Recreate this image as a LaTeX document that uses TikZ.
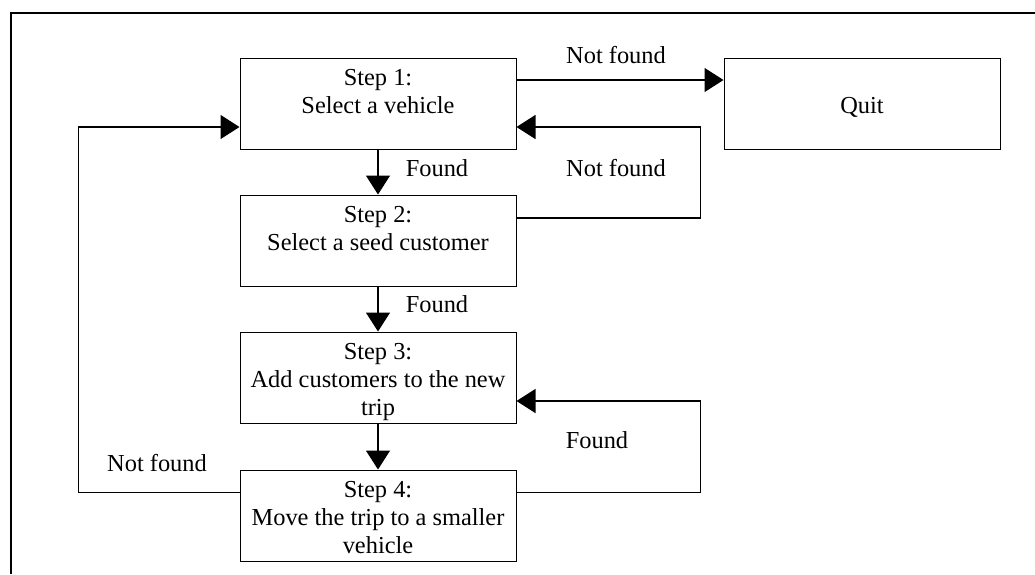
\documentclass[tikz,border=0pt]{standalone}
\usepackage{fontspec}
\setmainfont{Liberation Serif}
\usetikzlibrary{positioning, arrows.meta}

% text of a step box, set from the top of the box down
\newcommand{\boxtext}[1]{\parbox[c][91pt][t]{276pt}{\centering\rule{0pt}{27pt}#1}}

\begin{document}
\begin{tikzpicture}[x=1pt, y=-1pt,
    stepbox/.style={draw, line width=1pt, minimum width=276pt, minimum height=91pt,
        align=center, inner sep=0pt, font=\fontsize{24.4}{28}\selectfont},
    flow/.style={-{Triangle[length=19pt, width=24pt]}, line width=1.3pt},
    lbl/.style={font=\fontsize{24.4}{28}\selectfont}]
    \useasboundingbox (0,0) rectangle (1035,574);

    % Outer frame (open at right and bottom)
    \draw[line width=1.8pt] (11,574) -- (11,13) -- (1035,13);

    % Steps
    \node[stepbox] (s1) at (378,103.5) {\boxtext{Step 1:\\ Select a vehicle}};
    \node[stepbox, below=45pt of s1] (s2) {\boxtext{Step 2:\\ Select a seed customer}};
    \node[stepbox, below=45pt of s2] (s3) {\boxtext{Step 3:\\ Add customers to the new\\ trip}};
    \node[stepbox, below=46pt of s3] (s4) {\boxtext{Step 4:\\ Move the trip to a smaller\\ vehicle}};
    \node[stepbox, right=207pt of s1] (q) {\boxtext{\\ Quit}};

    % Forward arrows
    \draw[flow] ([yshift=23.5pt]s1.east) -- ([yshift=23.5pt]s1.east -| q.west);
    \draw[flow] (s1) -- (s2);
    \draw[flow] (s2) -- (s3);
    \draw[flow] (s3) -- (s4);

    % Loops back
    \draw[flow] ([yshift=22.5pt]s2.east) -- ++(184,0) |- ([yshift=-23.5pt]s1.east);
    \draw[flow] ([yshift=23pt]s4.east) -- ++(184,0) |- ([yshift=-23.5pt]s3.east);
    \draw[flow] ([yshift=23pt]s4.west) -- ++(-161,0) |- ([yshift=-23.5pt]s1.west);

    % Labels
    \node[lbl] (nf1) at (616,55) {Not found};
    \node[lbl] (f1) at (437,168) {Found};
    \node[lbl] (nf2) at (616,168) {Not found};
    \node[lbl] (f2) at (437,304) {Found};
    \node[lbl] (f3) at (597,440) {Found};
    \node[lbl] (nf3) at (157,463) {Not found};
\end{tikzpicture}
\end{document}
